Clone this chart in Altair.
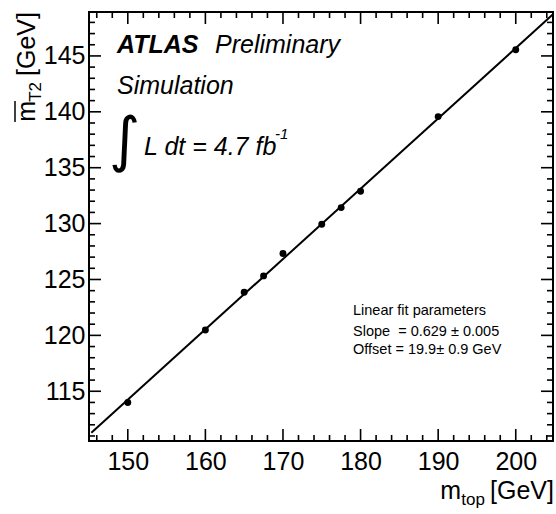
import altair as alt
import pandas as pd

# Mean mT2 versus generated top mass, with a linear fit
m_top = [150, 160, 165, 167.5, 170, 175, 177.5, 180, 190, 200]
m_t2 = [113.99, 120.48, 123.86, 125.32, 127.32, 129.94, 131.43, 132.89, 139.57, 145.56]

fit_slope = 0.629
fit_offset = 19.9
fit_range = [145.3, 204.8]

x_major = [150, 160, 170, 180, 190, 200]
x_minor = [v for v in range(146, 205, 2) if v % 10 != 0]
y_major = [115, 120, 125, 130, 135, 140, 145]
y_minor = [v for v in range(111, 149) if v % 5 != 0]

X_DOMAIN = [145.0, 204.8]
Y_DOMAIN = [110.55, 148.93]

W, H = 464, 429
FONT = "Liberation Sans"
BIG = 25
SUB = 17
MAJOR_LEN, MINOR_LEN = 12, 6

points = pd.DataFrame({"mtop": m_top, "mt2": m_t2})
fit = pd.DataFrame({"mtop": fit_range,
                    "mt2": [fit_slope * v + fit_offset for v in fit_range]})

xs = alt.Scale(domain=X_DOMAIN, nice=False, zero=False)
ys = alt.Scale(domain=Y_DOMAIN, nice=False, zero=False)


def x_ticks(values, length):
    # inward ticks on the bottom and top edges of the frame
    df = pd.DataFrame({"v": values})
    base = alt.Chart(df).mark_rule(color="black", strokeWidth=1.6)
    xenc = alt.X("v:Q", scale=xs, axis=None)
    bottom = base.encode(x=xenc, y=alt.value(H), y2=alt.value(H - length))
    top = base.encode(x=xenc, y=alt.value(0), y2=alt.value(length))
    return [bottom, top]


def y_ticks(values, length):
    # inward ticks on the left and right edges of the frame
    df = pd.DataFrame({"v": values})
    base = alt.Chart(df).mark_rule(color="black", strokeWidth=1.6)
    yenc = alt.Y("v:Q", scale=ys, axis=None)
    left = base.encode(y=yenc, x=alt.value(0), x2=alt.value(length))
    right = base.encode(y=yenc, x=alt.value(W), x2=alt.value(W - length))
    return [left, right]


tick_layers = (x_ticks(x_major, MAJOR_LEN) + x_ticks(x_minor, MINOR_LEN)
               + y_ticks(y_major, MAJOR_LEN) + y_ticks(y_minor, MINOR_LEN))

fit_line = alt.Chart(fit).mark_line(color="black", strokeWidth=2).encode(
    x=alt.X("mtop:Q", scale=xs, axis=None),
    y=alt.Y("mt2:Q", scale=ys, axis=None),
)

dots = alt.Chart(points).mark_circle(color="black", opacity=1, size=48).encode(
    x=alt.X("mtop:Q", scale=xs,
            axis=alt.Axis(orient="bottom", values=x_major, ticks=False, domain=False,
                          grid=False, title=None, labelFont=FONT, labelFontSize=BIG,
                          labelColor="black", labelPadding=8, labelFlush=False)),
    y=alt.Y("mt2:Q", scale=ys,
            axis=alt.Axis(orient="left", values=y_major, ticks=False, domain=False,
                          grid=False, title=None, labelFont=FONT, labelFontSize=BIG,
                          labelColor="black", labelPadding=4, labelFlush=False)),
)


def label(text, x, y, size=BIG, style="normal", weight="normal", align="left",
          angle=0, font=FONT):
    return alt.Chart(pd.DataFrame({"t": [text]})).mark_text(
        font=font, fontSize=size, fontStyle=style, fontWeight=weight,
        align=align, baseline="alphabetic", angle=angle, color="black",
    ).encode(text="t:N", x=alt.value(x), y=alt.value(y))


texts = [
    label("ATLAS", 28, 41, style="italic", weight="bold"),
    label("Preliminary", 126, 41, style="italic"),
    label("Simulation", 28, 82, style="italic"),
    label("\u222b", 20, 148, size=60, style="italic", font="DejaVu Sans"),
    label("L dt = 4.7 fb", 55, 143, style="italic"),
    label("-1", 186, 127, size=15, style="italic"),
    label("Linear fit parameters", 264, 303, size=14.5),
    label("Slope\u00a0\u00a0= 0.629 \u00b1 0.005", 264, 324, size=14.5),
    label("Offset = 19.9\u00b1 0.9 GeV", 264, 342, size=14.5),
    # x title: m_top [GeV]
    label("[GeV]", 465, 487, align="right"),
    label("top", 396, 493, size=SUB, align="right"),
    label("m", 372, 487, align="right"),
    # y title: mean mT2 [GeV], rotated
    label("[GeV]", -54, 0, align="right", angle=270),
    label("T2", -48, 70, size=SUB, align="right", angle=270),
    label("m", -54, 89, align="right", angle=270),
]

overbar = alt.Chart(pd.DataFrame({"k": [0]})).mark_rule(
    color="black", strokeWidth=1.5
).encode(x=alt.value(-74), x2=alt.value(-74), y=alt.value(89), y2=alt.value(110))

chart = alt.layer(
    dots, fit_line, *tick_layers, *texts, overbar,
).resolve_axis(x="independent", y="independent").properties(
    width=W, height=H,
    autosize=alt.AutoSizeParams(type="none"),
    padding={"left": 89, "top": 12, "right": 3, "bottom": 73},
    background="white",
).configure_view(stroke="black", strokeWidth=2)

chart.save("out.html", embed_options={"renderer": "svg", "actions": False})
